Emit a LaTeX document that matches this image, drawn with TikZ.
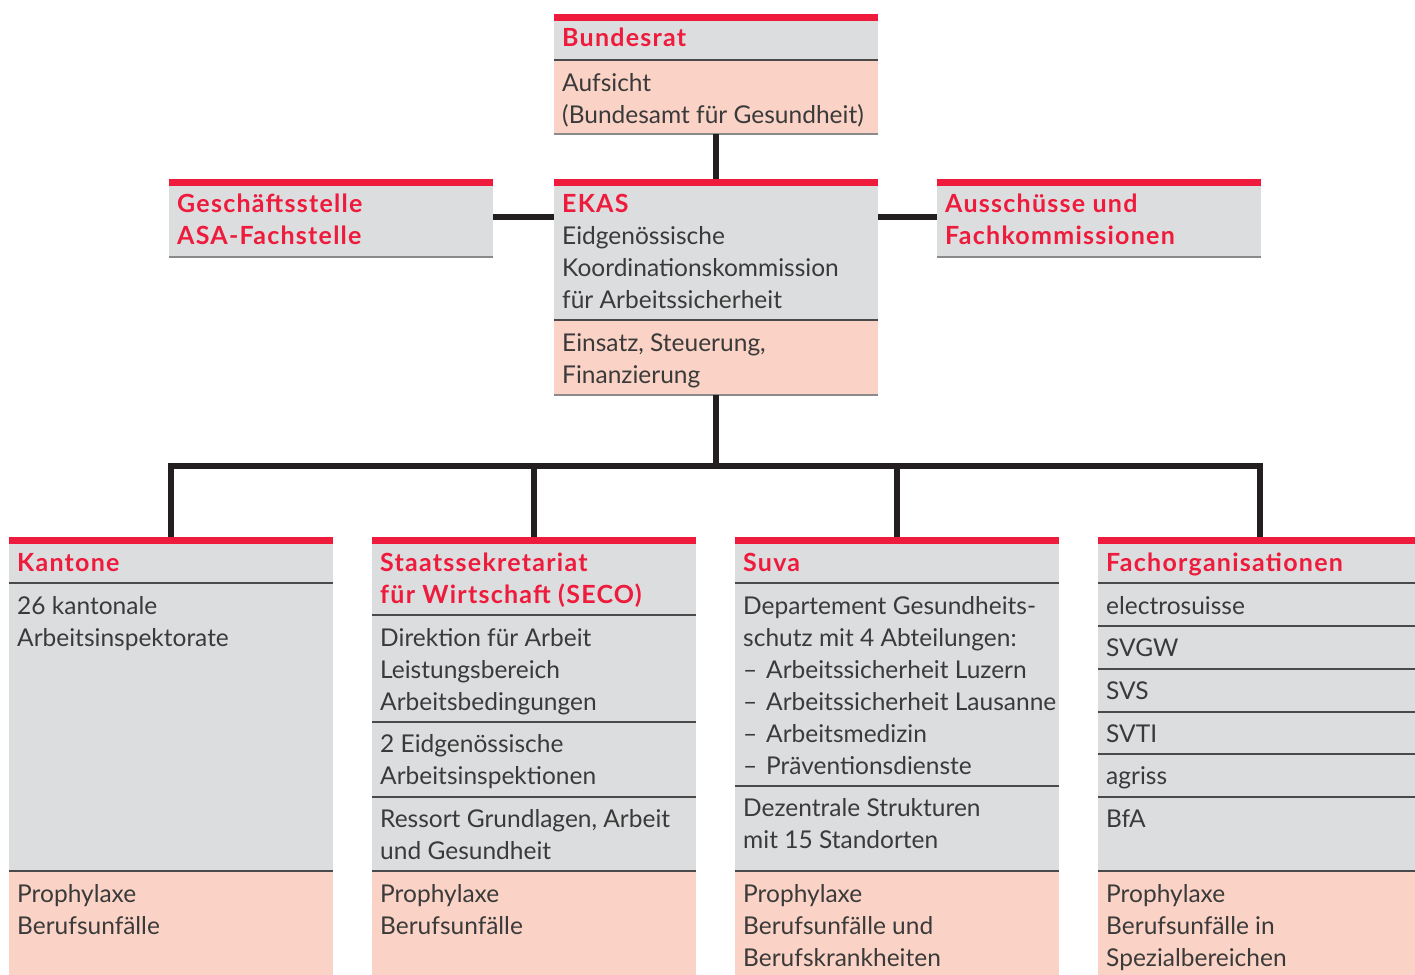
\documentclass[tikz,border=0pt]{standalone}
\usepackage{fontspec}
\setmainfont{Lato}
\newfontfamily\hdfont{Lato}[LetterSpace=5]
\definecolor{ekred}{HTML}{EE1B3C}
\definecolor{ekgray}{HTML}{DCDDDF}
\definecolor{ekpink}{HTML}{FAD3C6}
\definecolor{ekline}{HTML}{231F20}
\definecolor{eksep}{HTML}{4A4A4A}
\definecolor{ekbot}{HTML}{8A8A8A}
\definecolor{ektxt}{HTML}{3A3A3A}
\newcommand\dashitem{\makebox[23pt][l]{--}}
\newcommand\ml[1]{\begin{tabular}[t]{@{}l@{}}#1\end{tabular}}
\begin{document}
\begin{tikzpicture}[x=1pt,y=-1pt,
 sec/.style={anchor=north west, minimum width=324pt, inner sep=0pt, outer sep=0pt, draw=none},
 redbar/.style={sec, fill=ekred, minimum height=7pt},
 graysec/.style={sec, fill=ekgray},
 pinksec/.style={sec, fill=ekpink},
 txt/.style={anchor=base west, inner sep=0pt, font=\fontsize{24.5}{32}\selectfont, text=ektxt},
 hd/.style={txt, font=\fontsize{25}{32}\selectfont\hdfont\bfseries, text=ekred},
 sepline/.style={draw=eksep, line width=1.5pt},
 botline/.style={draw=ekbot, line width=2pt},
 conn/.style={draw=ekline, line width=6pt}]
\useasboundingbox (0,0) rectangle (1415,974);
\coordinate (lvl) at (0,217);
\coordinate (bus) at (0,466);

% Bundesrat
\node[redbar] (brR) at (554,14) {};
\node[graysec, minimum height=39pt] (brH) at (554,21) {};
\node[pinksec, minimum height=74pt] (brB) at (554,60) {};
\draw[sepline] (brH.south west) -- (brH.south east);
\draw[botline] (brB.south west) -- (brB.south east);
\node[hd] (brT) at (562,47) {Bundesrat};
\node[txt] (brT2) at (562,92) {\ml{Aufsicht\\(Bundesamt für Gesundheit)}};

% Geschaeftsstelle
\node[redbar] (gsR) at (169,179) {};
\node[graysec, minimum height=71pt] (gsH) at (169,186) {};
\draw[botline] (gsH.south west) -- (gsH.south east);
\node[hd] (gsT) at (177,212) {\ml{Geschäftsstelle\\ASA-Fachstelle}};

% EKAS
\node[redbar] (ekR) at (554,179) {};
\node[graysec, minimum height=134pt] (ekH) at (554,186) {};
\node[pinksec, minimum height=75pt] (ekB) at (554,320) {};
\draw[sepline] (ekH.south west) -- (ekH.south east);
\draw[botline] (ekB.south west) -- (ekB.south east);
\node[hd] (ekT) at (562,212) {EKAS};
\node[txt] (ekT2) at (562,244) {\ml{Eidgenössische\\Koordinationskommission\\für Arbeitssicherheit}};
\node[txt] (ekT3) at (562,351) {\ml{Einsatz, Steuerung,\\Finanzierung}};

% Ausschuesse
\node[redbar] (auR) at (937,179) {};
\node[graysec, minimum height=71pt] (auH) at (937,186) {};
\draw[botline] (auH.south west) -- (auH.south east);
\node[hd] (auT) at (945,212) {\ml{Ausschüsse und\\Fachkommissionen}};

% Kantone
\node[redbar] (kaR) at (9,537) {};
\node[graysec, minimum height=39pt] (kaH) at (9,544) {};
\node[graysec, minimum height=288pt] (kaS1) at (9,583) {};
\node[pinksec, minimum height=110pt] (kaB) at (9,871) {};
\draw[sepline] (kaH.south west) -- (kaH.south east);
\draw[sepline] (kaS1.south west) -- (kaS1.south east);
\node[hd] (kaT) at (17,571) {Kantone};
\node[txt] (kaT1) at (17,614) {\ml{26 kantonale\\Arbeitsinspektorate}};
\node[txt] (kaT2) at (17,902) {\ml{Prophylaxe\\Berufsunfälle}};

% SECO
\node[redbar] (seR) at (372,537) {};
\node[graysec, minimum height=71pt] (seH) at (372,544) {};
\node[graysec, minimum height=107pt] (seS1) at (372,615) {};
\node[graysec, minimum height=75pt] (seS2) at (372,722) {};
\node[graysec, minimum height=74pt] (seS3) at (372,797) {};
\node[pinksec, minimum height=110pt] (seB) at (372,871) {};
\draw[sepline] (seH.south west) -- (seH.south east);
\draw[sepline] (seS1.south west) -- (seS1.south east);
\draw[sepline] (seS2.south west) -- (seS2.south east);
\draw[sepline] (seS3.south west) -- (seS3.south east);
\node[hd] (seT) at (380,571) {\ml{Staatssekretariat\\für Wirtschaft (SECO)}};
\node[txt] (seT1) at (380,646) {\ml{Direktion für Arbeit\\Leistungsbereich\\Arbeitsbedingungen}};
\node[txt] (seT2) at (380,752) {\ml{2 Eidgenössische\\Arbeitsinspektionen}};
\node[txt] (seT3) at (380,827) {\ml{Ressort Grundlagen, Arbeit\\und Gesundheit}};
\node[txt] (seT4) at (380,902) {\ml{Prophylaxe\\Berufsunfälle}};

% Suva
\node[redbar] (suR) at (735,537) {};
\node[graysec, minimum height=39pt] (suH) at (735,544) {};
\node[graysec, minimum height=203pt] (suS1) at (735,583) {};
\node[graysec, minimum height=85pt] (suS2) at (735,786) {};
\node[pinksec, minimum height=110pt] (suB) at (735,871) {};
\draw[sepline] (suH.south west) -- (suH.south east);
\draw[sepline] (suS1.south west) -- (suS1.south east);
\draw[sepline] (suS2.south west) -- (suS2.south east);
\node[hd] (suT) at (743,571) {Suva};
\node[txt] (suT1) at (743,614) {\ml{Departement Gesundheits-\\schutz mit 4 Abteilungen:\\\dashitem Arbeitssicherheit Luzern\\\dashitem Arbeitssicherheit Lausanne\\\dashitem Arbeitsmedizin\\\dashitem Präventionsdienste}};
\node[txt] (suT2) at (743,816) {\ml{Dezentrale Strukturen\\mit 15 Standorten}};
\node[txt] (suT3) at (743,902) {\ml{Prophylaxe\\Berufsunfälle und\\Berufskrankheiten}};

% Fachorganisationen
\node[redbar] (faR) at (1098,537) {};
\node[graysec, minimum height=39pt] (faH) at (1098,544) {};
\node[graysec, minimum height=43pt] (faS1) at (1098,583) {};
\node[graysec, minimum height=43pt] (faS2) at (1098,626) {};
\node[graysec, minimum height=43pt] (faS3) at (1098,669) {};
\node[graysec, minimum height=42pt] (faS4) at (1098,712) {};
\node[graysec, minimum height=43pt] (faS5) at (1098,754) {};
\node[graysec, minimum height=74pt] (faS6) at (1098,797) {};
\node[pinksec, minimum height=110pt] (faB) at (1098,871) {};
\foreach \s in {faH,faS1,faS2,faS3,faS4,faS5,faS6}
  \draw[sepline] (\s.south west) -- (\s.south east);
\node[hd] (faT) at (1106,571) {Fachorganisationen};
\node[txt] (faT1) at (1106,614) {electrosuisse};
\node[txt] (faT2) at (1106,656) {SVGW};
\node[txt] (faT3) at (1106,699) {SVS};
\node[txt] (faT4) at (1106,742) {SVTI};
\node[txt] (faT5) at (1106,784) {agriss};
\node[txt] (faT6) at (1106,827) {BfA};
\node[txt] (faT7) at (1106,902) {\ml{Prophylaxe\\Berufsunfälle in\\Spezialbereichen}};

% connectors
\draw[conn] (brB.south) -- (ekR.north);
\draw[conn] (gsH.east |- lvl) -- (ekH.west |- lvl);
\draw[conn] (ekH.east |- lvl) -- (auH.west |- lvl);
\draw[conn] (ekB.south) -- (ekB.south |- bus);
\draw[conn] (kaR.north) -- (kaR.north |- bus) -- (faR.north |- bus) -- (faR.north);
\draw[conn] (seR.north) -- (seR.north |- bus);
\draw[conn] (suR.north) -- (suR.north |- bus);
\end{tikzpicture}
\end{document}
